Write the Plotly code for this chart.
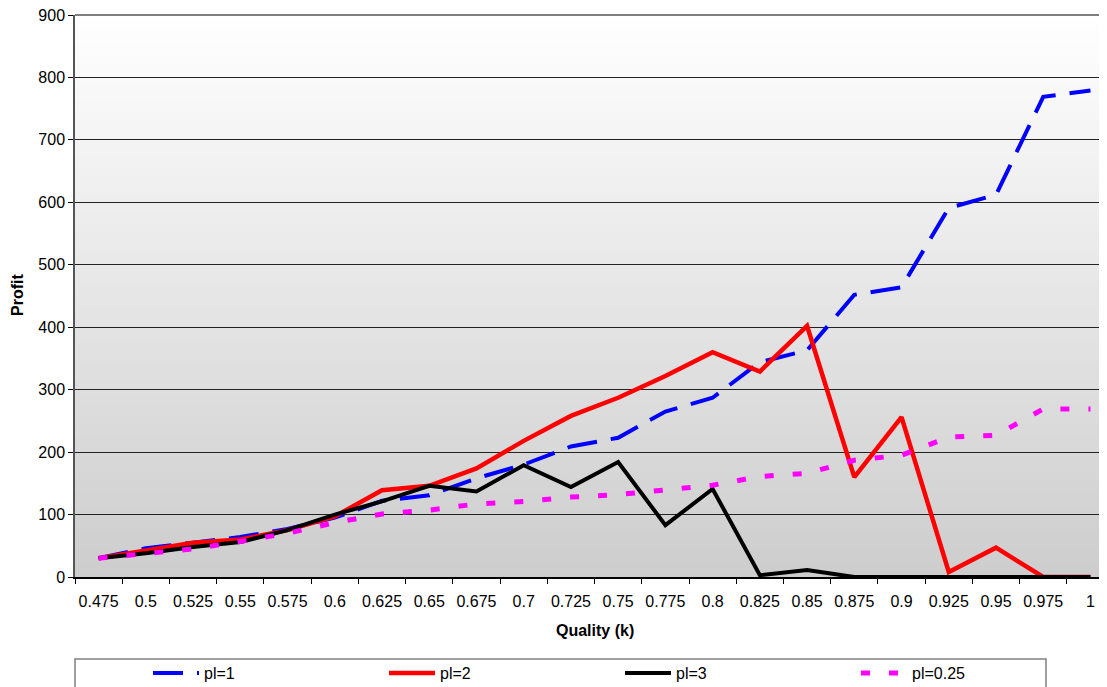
import plotly.graph_objects as go

quality = ["0.475", "0.5", "0.525", "0.55", "0.575", "0.6", "0.625", "0.65", "0.675", "0.7",
           "0.725", "0.75", "0.775", "0.8", "0.825", "0.85", "0.875", "0.9", "0.925", "0.95",
           "0.975", "1"]
pl_1 = [30, 46, 55, 64, 77, 95, 122, 131, 158, 180, 209, 223, 265, 287, 344, 363, 452, 464,
        591, 612, 769, 779]
pl_2 = [30, 42, 55, 60, 75, 97, 139, 146, 174, 218, 258, 287, 322, 360, 329, 402, 160, 256,
        8, 47, 0, 0]
pl_3 = [30, 38, 48, 56, 75, 100, 121, 146, 137, 179, 144, 184, 83, 141, 3, 11, 0, 0, 0, 0, 0, 0]
pl_025 = [30, 38, 45, 57, 70, 87, 101, 107, 117, 121, 128, 132, 140, 147, 161, 166, 187, 195,
          224, 227, 269, 269]
y_ticks = [0, 100, 200, 300, 400, 500, 600, 700, 800, 900]

# page body has an 8px margin; size the figure so the plot lands where the reference has it
OFF = 8
WIN_W, WIN_H = 1107, 687
PL, PT, PR, PB = 75, 15, 1107, 577  # plot area in window pixels
W, H = WIN_W - OFF, WIN_H - OFF
ML, MT = PL - OFF, PT - OFF
MR = (OFF + W) - PR
MB = (OFF + H) - PB
PW, PH = PR - PL, PB - PT
FONT = "Liberation Sans, Arial, sans-serif"

def px_x(p):
    return (p - PL) / PW

def px_y(p):
    return (PB - p) / PH

fig = go.Figure()
series = [
    ("pl=1", pl_1, "#0000FF", 4, "30px,14px"),
    ("pl=2", pl_2, "#FF0000", 4.5, "solid"),
    ("pl=3", pl_3, "#000000", 4, "solid"),
    ("pl=0.25", pl_025, "#FF00FF", 5, "9px,19px"),
]
for name, vals, col, w, dash in series:
    fig.add_trace(go.Scatter(x=quality, y=vals, name=name, mode="lines",
                             line=dict(color=col, width=w, dash=dash)))

# gradient background
shapes = []
N = 80
for i in range(N):
    t0, t1 = i / N, (i + 1) / N
    c = round(255 - 50 * (1 - (t0 + t1) / 2))
    shapes.append(dict(type="rect", xref="paper", yref="paper", x0=0, x1=1, y0=t0, y1=t1 + 0.002,
                       fillcolor=f"rgb({c},{c},{c})", line=dict(width=0), layer="below"))
# top border
shapes.append(dict(type="line", xref="paper", yref="paper", x0=0, x1=1, y0=1, y1=1,
                   line=dict(color="#808080", width=2)))
# legend box
shapes.append(dict(type="rect", xref="paper", yref="paper", x0=0, x1=px_x(1046),
                   y0=px_y(659), y1=px_y(700), line=dict(color="#808080", width=1.5),
                   fillcolor="white", layer="below"))

fig.update_layout(
    width=W, height=H, autosize=False,
    margin=dict(l=ML, r=MR, t=MT, b=MB, autoexpand=False),
    paper_bgcolor="white", plot_bgcolor="white",
    font=dict(family=FONT, size=16, color="black"),
    shapes=shapes,
    showlegend=True,
    legend=dict(orientation="h", x=px_x(148), xanchor="left", y=px_y(673), yanchor="middle",
                entrywidth=175, entrywidthmode="pixels", itemwidth=46,
                bgcolor="rgba(0,0,0,0)",
                font=dict(family=FONT, size=16, color="black"), tracegroupgap=0),
    annotations=[
        dict(text="<b>Profit</b>", textangle=-90, xref="paper", yref="paper",
             x=px_x(17), y=px_y(295), xanchor="center", yanchor="middle", showarrow=False,
             font=dict(family=FONT, size=16, color="black")),
        dict(text="<b>Quality (k)</b>", xref="paper", yref="paper",
             x=px_x(595), y=px_y(630), xanchor="center", yanchor="middle", showarrow=False,
             font=dict(family=FONT, size=16, color="black")),
    ],
)
fig.update_xaxes(type="category", categoryorder="array", categoryarray=quality,
                 range=[-0.5, 21.35], tickson="boundaries", ticks="outside", ticklen=5,
                 tickcolor="black", tickwidth=1, showgrid=False, showline=True,
                 linecolor="black", linewidth=1.5, ticklabelstandoff=9, tickangle=0,
                 ticklabeloverflow="allow",
                 tickfont=dict(family=FONT, size=16, color="black"))
fig.update_yaxes(range=[0, 900], tickvals=y_ticks, ticks="outside", ticklen=5, tickcolor="black",
                 showgrid=True, gridcolor="#222222", gridwidth=1, zeroline=False, showline=True,
                 linecolor="#555555", linewidth=1.5, ticklabeloverflow="allow",
                 tickfont=dict(family=FONT, size=16, color="black"))

fig.write_html("out.html")
